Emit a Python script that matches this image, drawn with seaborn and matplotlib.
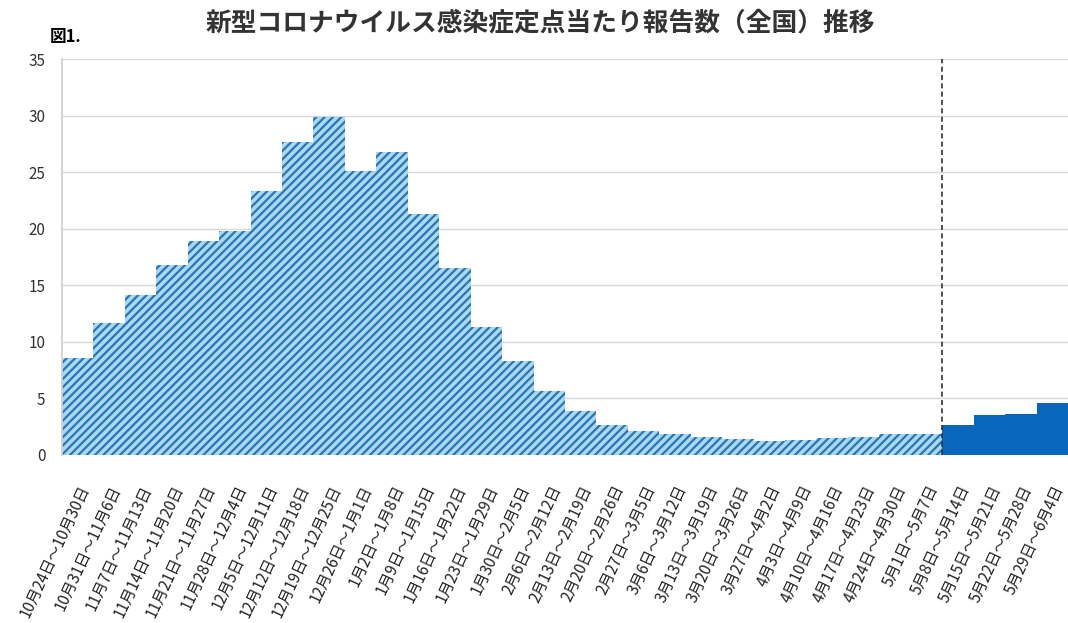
import matplotlib
matplotlib.use("Agg")
import matplotlib.pyplot as plt
import seaborn as sns
import pandas as pd

# semanas (etiquetas del eje x)
semanas = [
    "10月24日～10月30日", "10月31日～11月6日", "11月7日～11月13日", "11月14日～11月20日",
    "11月21日～11月27日", "11月28日～12月4日", "12月5日～12月11日", "12月12日～12月18日",
    "12月19日～12月25日", "12月26日～1月1日", "1月2日～1月8日", "1月9日～1月15日",
    "1月16日～1月22日", "1月23日～1月29日", "1月30日～2月5日", "2月6日～2月12日",
    "2月13日～2月19日", "2月20日～2月26日", "2月27日～3月5日", "3月6日～3月12日",
    "3月13日～3月19日", "3月20日～3月26日", "3月27日～4月2日", "4月3日～4月9日",
    "4月10日～4月16日", "4月17日～4月23日", "4月24日～4月30日", "5月1日～5月7日",
    "5月8日～5月14日", "5月15日～5月21日", "5月22日～5月28日", "5月29日～6月4日",
]

# valores estimados (antes del 5/8) y reportados (desde el 5/8)
estimados = [8.6, 11.7, 14.1, 16.8, 18.9, 19.8, 23.3, 27.7, 29.9, 25.1, 26.8, 21.3,
             16.5, 11.3, 8.3, 5.6, 3.9, 2.6, 2.1, 1.8, 1.6, 1.4, 1.2, 1.3,
             1.5, 1.6, 1.8, 1.8]
reportados = [2.63, 3.55, 3.63, 4.55]

titulo = "新型コロナウイルス感染症定点当たり報告数（全国）推移"
etiqueta_fig = "図1."

df = pd.DataFrame({"semana": semanas, "valor": estimados + reportados})

sns.set_theme(style="white")
plt.rcParams["font.family"] = ["Noto Sans CJK JP", "DejaVu Sans"]
plt.rcParams["hatch.linewidth"] = 1.6

fig = plt.figure(figsize=(10.68, 6.23), dpi=100)
ax = fig.add_axes([0.058, 0.270, 0.942, 0.635])

colores = ["#a9d9f2"] * len(estimados) + ["#0a66bd"] * len(reportados)
sns.barplot(data=df, x="semana", y="valor", hue="semana", palette=colores,
            width=1.0, legend=False, ax=ax, saturation=1)

# rayado para los valores estimados
for i, barra in enumerate(ax.patches):
    if i < len(estimados):
        barra.set_hatch("////")
        barra.set_edgecolor("#2a75b3")
        barra.set_linewidth(0)
    else:
        barra.set_edgecolor("#0a66bd")
        barra.set_linewidth(0)

ax.axvline(len(estimados) - 0.5, color="#333333", linestyle=(0, (3, 2)), linewidth=1.2, zorder=5)

ax.set_xlim(-0.5, len(semanas) - 0.5)
ax.set_ylim(0, 35)
ax.set_yticks(range(0, 36, 5))
ax.yaxis.grid(True, color="#d9d9d9", linewidth=1)
ax.set_axisbelow(True)
ax.set_xlabel("")
ax.set_ylabel("")
for lado in ["top", "right", "bottom"]:
    ax.spines[lado].set_visible(False)
ax.spines["left"].set_color("#cfcfcf")

ax.tick_params(axis="y", length=0, labelsize=11, colors="#333333", pad=12)
ax.tick_params(axis="x", length=0, labelsize=11, colors="#222222", pad=20)
plt.setp(ax.get_xticklabels(), rotation=65, ha="right", rotation_mode="anchor")

fig.text(0.506, 0.963, titulo, ha="center", va="center", fontsize=18.5, fontweight="bold", color="#333333")
fig.text(0.047, 0.941, etiqueta_fig, ha="left", va="center", fontsize=12, fontweight="bold", color="#000000")

fig.savefig("out.png", dpi=100)
